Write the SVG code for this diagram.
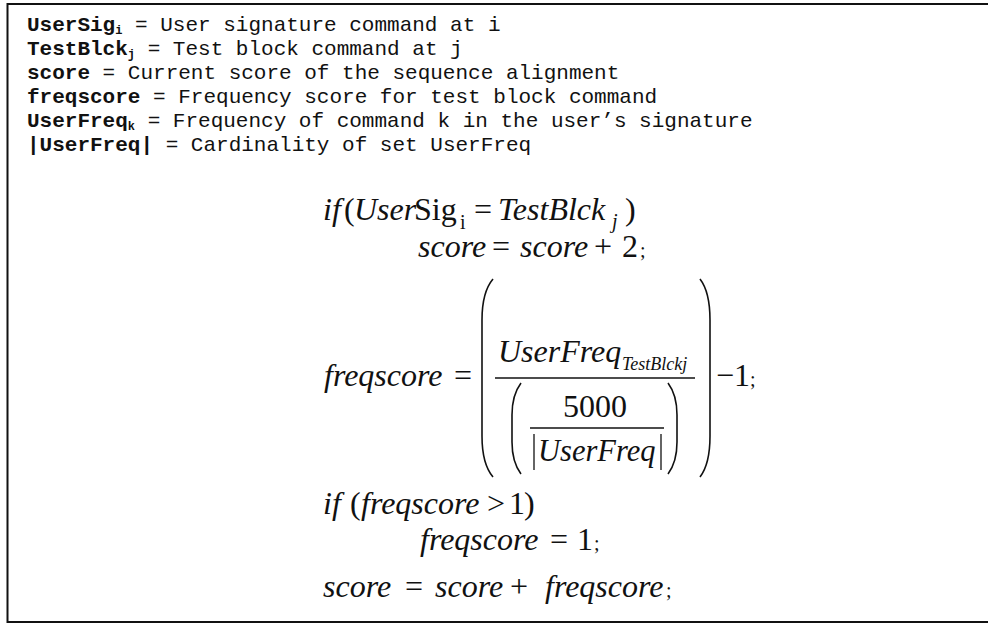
<svg xmlns="http://www.w3.org/2000/svg" width="988" height="624" viewBox="0 0 988 624">
<style>
.m{font-family:"Liberation Mono","Courier New",monospace;font-size:21px;fill:#111}
.b{font-weight:bold}
.ms{font-size:12px}
.t{font-family:"Liberation Serif","Times New Roman",serif;font-size:32px;fill:#111}
.i{font-style:italic}
.s{font-size:20px}
.ss{font-size:18px}
.ln{stroke:#111;stroke-width:1.3;fill:none}
.pr{stroke:#111;stroke-width:1.6;fill:none}
</style>
<rect width="988" height="624" fill="#fff"/>
<path d="M990 4 H7.5 V622 H990" fill="none" stroke="#111" stroke-width="2"/>
<g id="legend">
<text class="m" x="27" y="31"><tspan class="b">UserSig</tspan><tspan class="b ms" dy="3">i</tspan><tspan dy="-3"> = User signature command at i</tspan></text>
<text class="m" x="27" y="55"><tspan class="b">TestBlck</tspan><tspan class="b ms" dy="3">j</tspan><tspan dy="-3"> = Test block command at j</tspan></text>
<text class="m" x="27" y="79"><tspan class="b">score</tspan> = Current score of the sequence alignment</text>
<text class="m" x="27" y="103"><tspan class="b">freqscore</tspan> = Frequency score for test block command</text>
<text class="m" x="27" y="127"><tspan class="b">UserFreq</tspan><tspan class="b ms" dy="3">k</tspan><tspan dy="-3"> = Frequency of command k in the user’s signature</tspan></text>
<text class="m" x="27" y="151"><tspan class="b">|UserFreq|</tspan> = Cardinality of set UserFreq</text>
</g>
<g id="formula">
<text class="t" y="220"><tspan class="i" x="323">if</tspan><tspan x="344">(</tspan><tspan class="i" x="354">User</tspan><tspan x="414">Sig</tspan></text>
<text class="t s" x="460" y="229">i</text>
<text class="t" y="220"><tspan x="474">=</tspan><tspan class="i" x="498">TestBlck</tspan></text>
<text class="t i s" x="612" y="228">j</text>
<text class="t" x="625" y="220">)</text>
<text class="t" y="257"><tspan class="i" x="418">score</tspan><tspan x="492">=</tspan><tspan class="i" x="520">score</tspan><tspan x="594">+</tspan><tspan x="622">2</tspan><tspan class="s" x="640">;</tspan></text>
<text class="t" y="386"><tspan class="i" x="324">freqscore</tspan><tspan x="454">=</tspan><tspan x="716">−</tspan><tspan x="734">1</tspan><tspan class="s" x="750">;</tspan></text>
<path class="pr" d="M493 279 Q482 292 482 320 V436 Q482 464 493 477"/>
<path class="pr" d="M700 279 Q710 292 710 320 V436 Q710 464 700 477"/>
<text class="t i" x="498" y="362">UserFreq</text>
<text class="t i ss" x="622" y="370">TestBlckj</text>
<line class="ln" x1="495" y1="378" x2="695" y2="378"/>
<path class="pr" d="M521 383 Q512 395 512 415 V442 Q512 462 521 474"/>
<path class="pr" d="M668 383 Q677 395 677 415 V442 Q677 462 668 474"/>
<text class="t" x="563" y="417">5000</text>
<line class="ln" x1="530" y1="428" x2="664" y2="428"/>
<line class="ln" x1="534" y1="434" x2="534" y2="470"/>
<line class="ln" x1="661" y1="434" x2="661" y2="470"/>
<text class="t i" x="538" y="461" style="font-size:30.5px">UserFreq</text>
<text class="t" y="514"><tspan class="i" x="323">if</tspan><tspan x="350">(</tspan><tspan class="i" x="361">freqscore</tspan><tspan x="487">&gt;</tspan><tspan x="509">1</tspan><tspan x="524">)</tspan></text>
<text class="t" y="550"><tspan class="i" x="420">freqscore</tspan><tspan x="550">=</tspan><tspan x="577">1</tspan><tspan class="s" x="594">;</tspan></text>
<text class="t" y="597"><tspan class="i" x="323">score</tspan><tspan x="405">=</tspan><tspan class="i" x="435">score</tspan><tspan x="510">+</tspan><tspan class="i" x="545">freqscore</tspan><tspan class="s" x="666">;</tspan></text>
</g>
</svg>
